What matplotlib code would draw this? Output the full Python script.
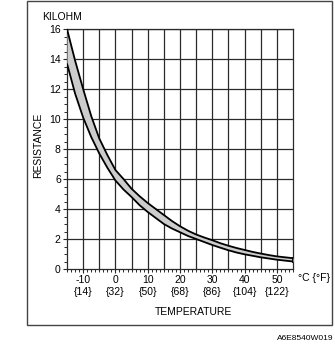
import matplotlib
matplotlib.use("Agg")
import matplotlib.pyplot as plt
from matplotlib.ticker import MultipleLocator
from matplotlib.patches import Rectangle

plt.rcParams['font.family'] = ['Liberation Sans', 'DejaVu Sans']

temps_c = [-15, -12.5, -10, -7.5, -5, -2.5, 0, 2.5, 5, 7.5, 10, 12.5, 15, 17.5, 20,
           22.5, 25, 27.5, 30, 32.5, 35, 37.5, 40, 42.5, 45, 47.5, 50, 52.5, 55]
upper_kohm = [16.0, 13.9, 12.0, 10.2, 8.7, 7.6, 6.6, 6.0, 5.35, 4.85, 4.4, 4.0, 3.6,
              3.2, 2.85, 2.55, 2.3, 2.1, 1.92, 1.72, 1.55, 1.4, 1.27, 1.14, 1.03,
              0.93, 0.84, 0.78, 0.72]
lower_kohm = [13.7, 11.7, 10.1, 8.8, 7.7, 6.75, 5.9, 5.3, 4.8, 4.25, 3.8, 3.4, 3.0,
              2.7, 2.45, 2.2, 2.0, 1.8, 1.6, 1.42, 1.25, 1.1, 0.98, 0.88, 0.78,
              0.7, 0.62, 0.56, 0.5]

tick_c = [-10, 0, 10, 20, 30, 40, 50]
tick_f = ["{14}", "{32}", "{50}", "{68}", "{86}", "{104}", "{122}"]
y_ticks = [0, 2, 4, 6, 8, 10, 12, 14, 16]

W, H = 335, 345
fig = plt.figure(figsize=(W / 100, H / 100), dpi=100)
ax = fig.add_axes([67 / W, (H - 269) / H, (293 - 67) / W, 240 / H])

ax.fill_between(temps_c, lower_kohm, upper_kohm, color="#cccccc", zorder=3, lw=0)
ax.plot(temps_c, upper_kohm, color="black", lw=1.3, zorder=4, solid_capstyle="butt",
        solid_joinstyle="round")
ax.plot(temps_c, lower_kohm, color="black", lw=1.3, zorder=4, solid_capstyle="butt",
        solid_joinstyle="round")
ax.plot([55, 55], [lower_kohm[-1], upper_kohm[-1]], color="black", lw=1.3, zorder=4)

ax.set_xlim(-15, 55)
ax.set_ylim(0, 16)

for x in range(-10, 55, 5):
    ax.axvline(x, color="#2a2a2a", lw=0.9, zorder=1)
for y in y_ticks[1:]:
    ax.axhline(y, color="#2a2a2a", lw=0.9, zorder=1)

for s in ax.spines.values():
    s.set_color("#2a2a2a")
    s.set_linewidth(0.9)

ax.set_xticks(tick_c)
ax.set_xticklabels([f"{c}\n{f}" for c, f in zip(tick_c, tick_f)], fontsize=7.5,
                   linespacing=1.25)
ax.xaxis.set_minor_locator(MultipleLocator(1.25))
ax.set_yticks(y_ticks)
ax.set_yticklabels([str(v) for v in y_ticks], fontsize=7.5)
ax.yaxis.set_minor_locator(MultipleLocator(0.5))
ax.tick_params(axis="both", which="major", direction="out", length=3, width=0.8, pad=1.5,
               color="#2a2a2a")
ax.tick_params(axis="both", which="minor", direction="out", length=2, width=0.7,
               color="#2a2a2a")

fig.text(42 / W, 1 - 17 / H, "KILOHM", fontsize=7.5, ha="left", va="center")
fig.text(38 / W, 1 - 145 / H, "RESISTANCE", fontsize=7.5, rotation=90, ha="center",
         va="center")
fig.text(193 / W, 1 - 312 / H, "TEMPERATURE", fontsize=7.5, ha="center", va="center")
fig.text(298 / W, 1 - 278 / H, "°C {°F}", fontsize=7.5, ha="left", va="center")
fig.text(333 / W, 1 - 338 / H, "A6E8540W019", fontsize=6, ha="right", va="center")

fig.add_artist(Rectangle((27 / W, 1 - 325 / H), (332 - 27) / W, 324 / H,
                         transform=fig.transFigure, fill=False, edgecolor="#444444",
                         lw=1.0))

fig.savefig("out.png", dpi=100)
